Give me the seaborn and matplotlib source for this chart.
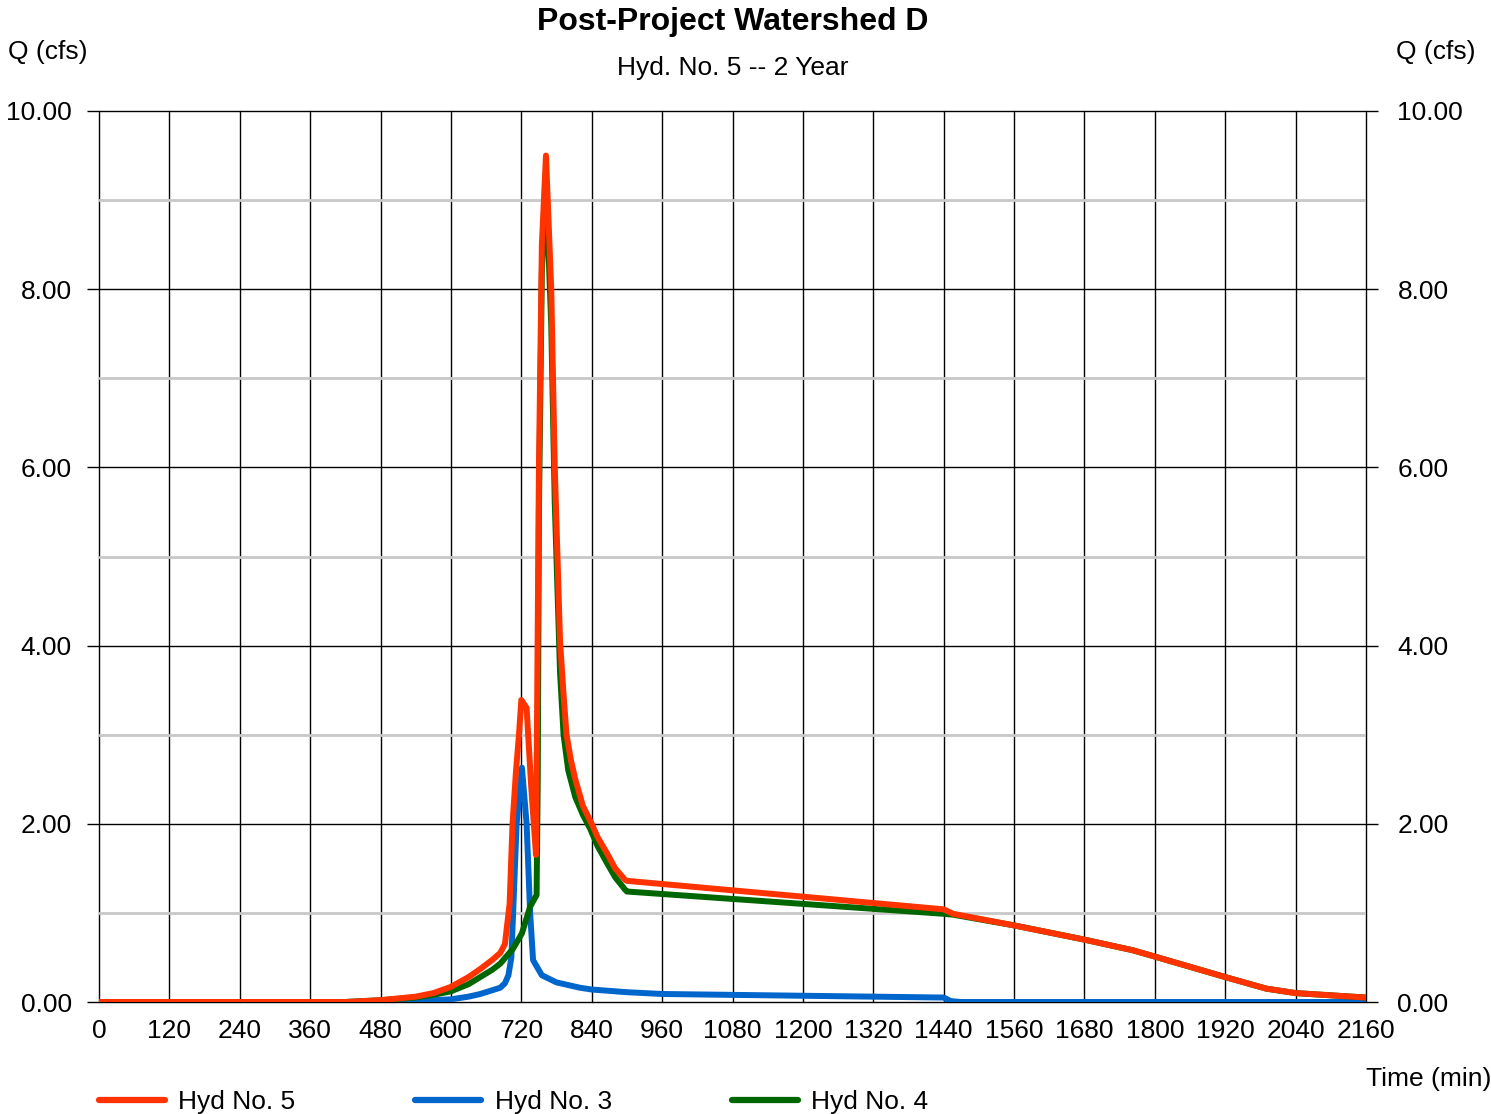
import numpy as np
import pandas as pd
import matplotlib
matplotlib.use("Agg")
import matplotlib.pyplot as plt
from matplotlib.lines import Line2D
import seaborn as sns

# ---- data ----
red_t = [0, 420, 480, 540, 570, 600, 630, 650, 670, 684, 692, 700, 705, 711, 716, 720, 729, 737, 745,
         750, 755, 762, 771, 777, 786, 792, 797, 805, 812, 825, 840, 850, 866, 880, 897, 900, 1440, 1456,
         1560, 1680, 1763, 1800, 1920, 1990, 2040, 2160]
red_q = [0, 0, 0.02, 0.06, 0.10, 0.17, 0.28, 0.37, 0.47, 0.55, 0.65, 1.1, 2.0, 2.6, 3.0, 3.39, 3.3, 2.4, 1.65,
         6.0, 8.5, 9.5, 8.0, 6.0, 4.05, 3.45, 3.0, 2.7, 2.5, 2.2, 2.0, 1.85, 1.67, 1.5, 1.37, 1.36, 1.04, 0.99,
         0.86, 0.70, 0.58, 0.51, 0.28, 0.15, 0.10, 0.05]

blue_t = [0, 480, 540, 600, 630, 650, 684, 692, 698, 703, 712, 721, 729, 735, 740, 755, 780, 820, 840,
          900, 960, 1080, 1200, 1320, 1440, 1452, 1470, 2160]
blue_q = [0, 0, 0.01, 0.03, 0.06, 0.09, 0.16, 0.21, 0.3, 0.5, 2.0, 2.63, 2.0, 1.0, 0.47, 0.3, 0.22, 0.16,
          0.14, 0.11, 0.09, 0.08, 0.07, 0.06, 0.05, 0.01, 0.0, 0.0]

green_t = [0, 420, 480, 540, 570, 600, 630, 650, 670, 684, 706, 721, 735, 746, 748, 750, 755, 762, 771,
           777, 786, 792, 800, 812, 825, 837, 850, 866, 880, 897, 900, 1440, 1456, 1560, 1680, 1763, 1800,
           1920, 1990, 2040, 2160]
green_q = [0, 0, 0.02, 0.05, 0.08, 0.12, 0.20, 0.28, 0.36, 0.43, 0.60, 0.77, 1.07, 1.2, 2.5, 5.5, 8.2,
           9.2, 7.6, 5.6, 3.7, 3.0, 2.6, 2.3, 2.1, 1.95, 1.75, 1.56, 1.4, 1.26, 1.24, 0.99, 0.98, 0.86,
           0.70, 0.58, 0.51, 0.28, 0.15, 0.10, 0.05]

series_names = ["Hyd No. 5", "Hyd No. 3", "Hyd No. 4"]
colors = {"Hyd No. 5": "#FF3300", "Hyd No. 3": "#0066CC", "Hyd No. 4": "#006600"}
x_ticks = list(range(0, 2161, 120))
y_major = [0, 2, 4, 6, 8, 10]
y_minor = [1, 3, 5, 7, 9]

df = pd.concat([
    pd.DataFrame({"t": red_t, "q": red_q, "series": "Hyd No. 5"}),
    pd.DataFrame({"t": blue_t, "q": blue_q, "series": "Hyd No. 3"}),
    pd.DataFrame({"t": green_t, "q": green_q, "series": "Hyd No. 4"}),
], ignore_index=True)

sns.set_theme(style="white")
plt.rcParams["font.family"] = ["Liberation Sans", "DejaVu Sans"]
plt.rcParams["text.color"] = "black"
plt.rcParams["xtick.color"] = "black"
plt.rcParams["ytick.color"] = "black"
plt.rcParams["xtick.labelcolor"] = "black"
plt.rcParams["ytick.labelcolor"] = "black"

W, H = 1491, 1114
fig = plt.figure(figsize=(W / 100, H / 100), dpi=100)
ax = fig.add_axes([99 / W, 1 - 1002 / H, (1366 - 99) / W, (1002 - 111) / H])

sns.lineplot(data=df, x="t", y="q", hue="series", hue_order=["Hyd No. 3", "Hyd No. 4", "Hyd No. 5"],
             palette=colors, estimator=None, sort=False, linewidth=4.3, legend=False, ax=ax,
             solid_capstyle="round", solid_joinstyle="round", zorder=3)

ax.set_xlim(0, 2160)
ax.set_ylim(0, 10)
ax.set_xticks(x_ticks)
ax.set_xticklabels([str(v) for v in x_ticks])
ax.set_yticks(y_major)
ax.set_yticklabels([f"{v:.2f}" for v in y_major])
ax.set_yticks(y_minor, minor=True)
ax.set_axisbelow(True)
ax.grid(which="major", axis="both", color="black", linewidth=1.0)
ax.grid(which="minor", axis="y", color="#c8c8c8", linewidth=2.0)
for gl in ax.get_xgridlines() + ax.get_ygridlines():
    gl.set_clip_on(False)
for s in ax.spines.values():
    s.set_visible(False)
ax.set_xlabel("")
ax.set_ylabel("")
ax.tick_params(axis="x", length=0, pad=12, labelsize=19)
ax.tick_params(axis="y", which="major", left=True, length=8.6, width=1, color="black",
               direction="out", pad=11, labelsize=19)
ax.tick_params(axis="y", which="minor", length=0)

ax2 = ax.twinx()
ax2.set_ylim(0, 10)
ax2.set_yticks(y_major)
ax2.set_yticklabels([f"{v:.2f}" for v in y_major])
for s in ax2.spines.values():
    s.set_visible(False)
ax2.tick_params(axis="y", right=True, length=8.6, width=1, color="black", direction="out",
                pad=14, labelsize=19)

fig.text(733 / W, 1 - 22 / H, "Post-Project Watershed D", ha="center", va="center",
         fontsize=23, fontweight="bold")
fig.text(733 / W, 1 - 68 / H, "Hyd. No. 5 -- 2 Year", ha="center", va="center", fontsize=19)
fig.text(8 / W, 1 - 52 / H, "Q (cfs)", ha="left", va="center", fontsize=19)
fig.text(1475 / W, 1 - 52 / H, "Q (cfs)", ha="right", va="center", fontsize=19)
fig.text(1366 / W, 1 - 1079 / H, "Time (min)", ha="left", va="center", fontsize=19)

handles = [Line2D([0], [0], color=colors[n], linewidth=4.5) for n in series_names]
fig.legend(handles, series_names, loc="center left", bbox_to_anchor=(99 / W, 1 - 1102 / H),
           ncol=3, frameon=False, fontsize=19, handlelength=2.5, handletextpad=0.5,
           columnspacing=4.55, borderpad=0, borderaxespad=0)

fig.savefig("out.png", dpi=100)
